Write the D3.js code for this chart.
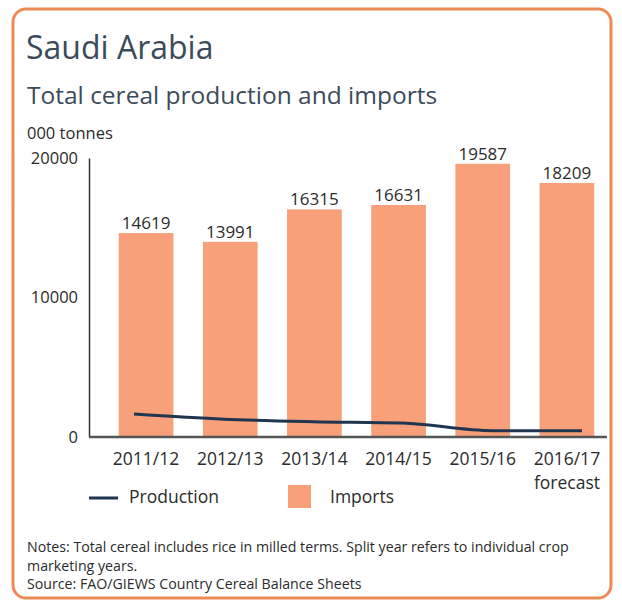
<!DOCTYPE html>
<html><head><meta charset="utf-8">
<script src="https://cdn.jsdelivr.net/npm/d3@7"></script>
<style>body{margin:0;background:#fff}svg{display:block}</style>
</head><body>
<svg id="c" width="622" height="607"></svg>
<script>
const categories = ["2011/12","2012/13","2013/14","2014/15","2015/16","2016/17"];
const categorySub = ["","","","","","forecast"];
const imports = [14619,13991,16315,16631,19587,18209];
const production = [1650,1280,1100,1000,450,450];
const yTicks = [0,10000,20000];

const svg = d3.select("#c");
const font = "'Open Sans', sans-serif";
const dark = "#2b2b2b";
const slate = "#3c4b5a";
const barColor = "#F7A07A";
const lineColor = "#1f3550";

svg.append("rect").attr("x",13).attr("y",9).attr("width",598).attr("height",589)
  .attr("rx",13).attr("fill","#fff").attr("stroke","#EE8A55").attr("stroke-width",3);

svg.append("text").attr("x",26).attr("y",59).text("Saudi Arabia")
  .attr("font-family",font).attr("font-size",32).attr("fill",slate);
svg.append("text").attr("x",27).attr("y",104).text("Total cereal production and imports")
  .attr("font-family",font).attr("font-size",24.5).attr("fill",slate);
svg.append("text").attr("x",27).attr("y",139).text("000 tonnes")
  .attr("font-family",font).attr("font-size",16.5).attr("fill",dark);

const y = d3.scaleLinear().domain([0,20000]).range([437,158]);
const x = d3.scaleBand().domain(categories).range([104,609]).paddingInner(0.35).paddingOuter(0.175);
const xl = d3.scalePoint().domain(categories).range([134,582]);

// y axis
const yAxis = d3.axisLeft(y).tickValues(yTicks).tickSize(0).tickPadding(11).tickFormat(d3.format("d"));
const gy = svg.append("g").attr("transform","translate(89,0)").call(yAxis);
gy.select(".domain").attr("stroke","#333").attr("stroke-width",1.5);
gy.selectAll("text").attr("font-family",font).attr("font-size",16.5).attr("fill",dark);

// bars
svg.append("g").selectAll("rect").data(imports).join("rect")
  .attr("x",(d,i)=>x(categories[i])).attr("width",x.bandwidth())
  .attr("y",d=>y(d)).attr("height",d=>y(0)-y(d)).attr("fill",barColor);

svg.append("g").selectAll("text").data(imports).join("text")
  .attr("x",(d,i)=>x(categories[i])+x.bandwidth()/2).attr("y",d=>y(d)-4)
  .attr("text-anchor","middle").attr("font-family",font).attr("font-size",17).attr("fill",dark)
  .text(d=>d);

// x axis
const xAxis = d3.axisBottom(x).tickSize(0).tickPadding(15.5);
const gx = svg.append("g").attr("transform",`translate(0,${y(0)})`).call(xAxis);
gx.select(".domain").attr("d","M89,0H607").attr("stroke","#555").attr("stroke-width",2.5);
gx.selectAll("text").attr("font-family",font).attr("font-size",17.5).attr("fill",dark);
gx.selectAll(".tick").each(function(d,i){
  if(categorySub[i]) d3.select(this).append("text").attr("y",52).attr("text-anchor","middle")
    .attr("font-family",font).attr("font-size",17.5).attr("fill",dark).text(categorySub[i]);
});

// production line
const line = d3.line().x((d,i)=>xl(categories[i])).y(d=>y(d)).curve(d3.curveMonotoneX);
svg.append("path").datum(production).attr("d",line).attr("fill","none")
  .attr("stroke",lineColor).attr("stroke-width",3);

// legend
svg.append("line").attr("x1",89).attr("x2",118).attr("y1",498).attr("y2",498)
  .attr("stroke",lineColor).attr("stroke-width",3);
svg.append("text").attr("x",129).attr("y",503).text("Production")
  .attr("font-family",font).attr("font-size",17.5).attr("fill",dark);
svg.append("rect").attr("x",288).attr("y",485).attr("width",23).attr("height",23).attr("fill",barColor);
svg.append("text").attr("x",330).attr("y",503).text("Imports")
  .attr("font-family",font).attr("font-size",17.5).attr("fill",dark);

// notes
const notes = ["Notes: Total cereal includes rice in milled terms. Split year refers to individual crop",
  "marketing years.","Source: FAO/GIEWS Country Cereal Balance Sheets"];
svg.append("g").selectAll("text").data(notes).join("text")
  .attr("x",27).attr("y",(d,i)=>552+i*18.5).text(d=>d)
  .attr("font-family",font).attr("font-size",14.2).attr("fill",dark);
</script>
</body></html>
